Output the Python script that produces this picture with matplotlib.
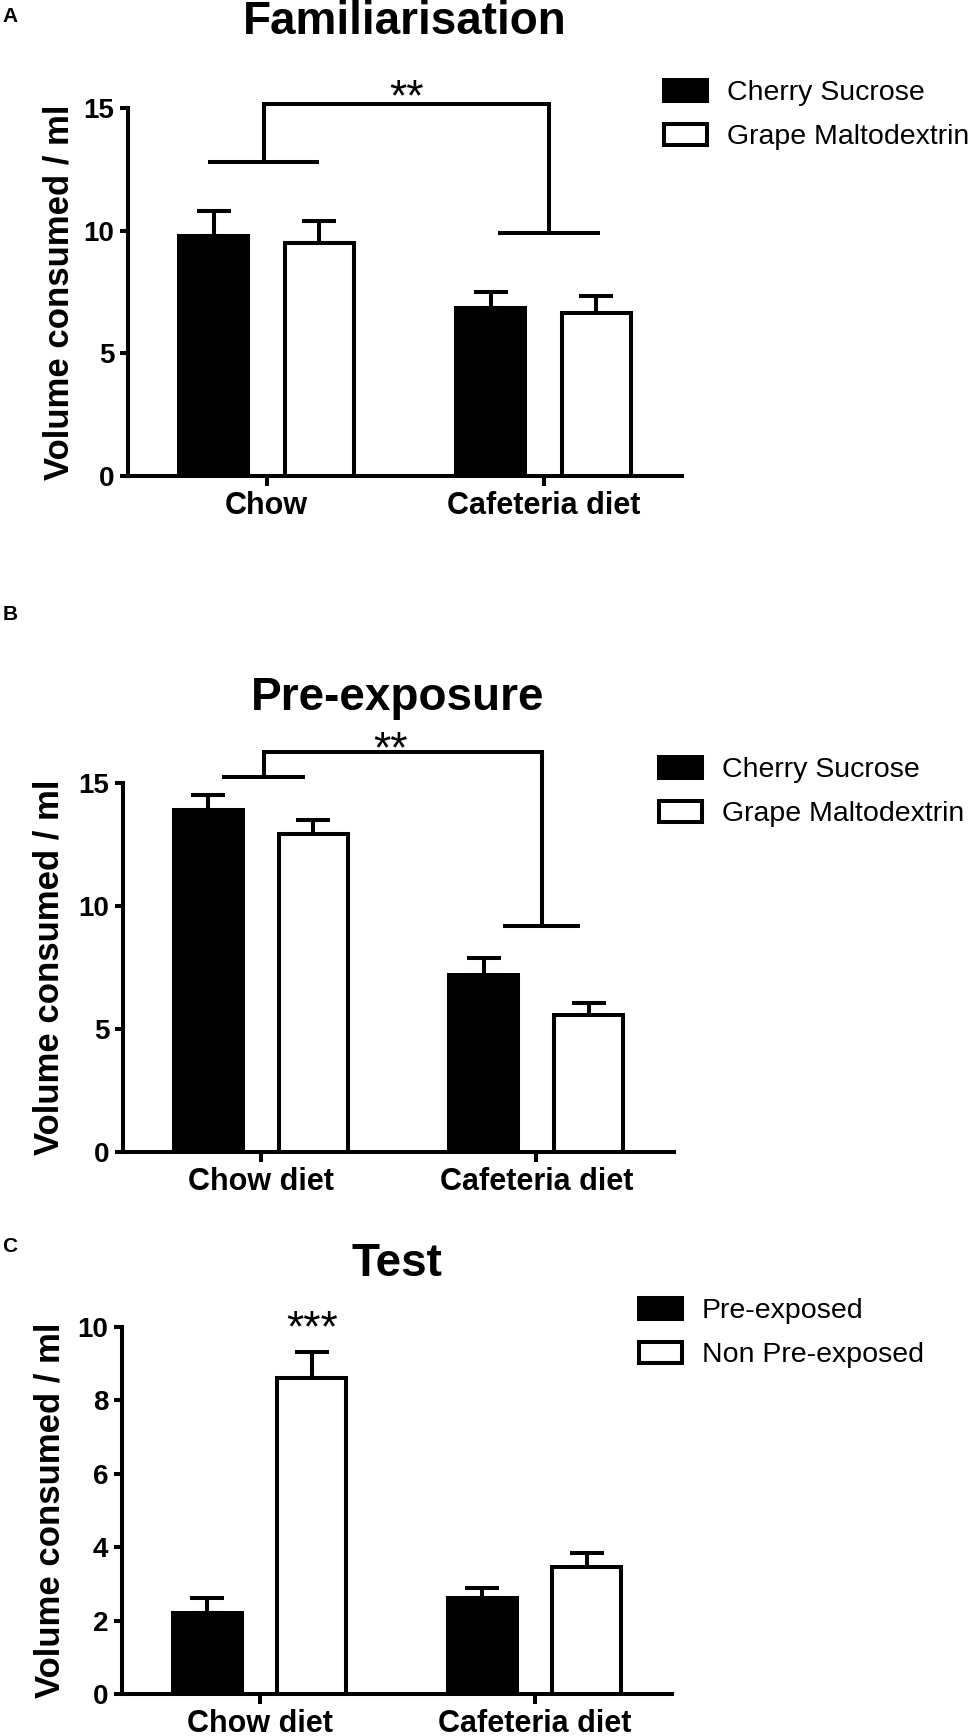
import matplotlib
matplotlib.use("Agg")
import matplotlib.pyplot as plt
import numpy as np

plt.rcParams['font.family'] = ['Liberation Sans', 'DejaVu Sans']

# ---------------- data ----------------
groups_A = ["Chow", "Cafeteria diet"]
groups_BC = ["Chow diet", "Cafeteria diet"]

legend_AB = ["Cherry Sucrose", "Grape Maltodextrin"]
legend_C = ["Pre-exposed", "Non Pre-exposed"]

A_sucrose = [9.8, 6.85]
A_sucrose_err = [1.0, 0.65]
A_malto = [9.5, 6.65]
A_malto_err = [0.9, 0.7]

B_sucrose = [13.9, 7.2]
B_sucrose_err = [0.62, 0.68]
B_malto = [12.94, 5.55]
B_malto_err = [0.56, 0.5]

C_pre = [2.22, 2.62]
C_pre_err = [0.4, 0.26]
C_non = [8.61, 3.45]
C_non_err = [0.72, 0.4]

titles = ["Familiarisation", "Pre-exposure", "Test"]
ylims = [15, 15, 10]
yticks = [[0, 5, 10, 15], [0, 5, 10, 15], [0, 2, 4, 6, 8, 10]]

# significance brackets: (left group bracket level, right group bracket level, top level)
A_bracket = [12.8, 9.9, 15.15]
B_bracket = [15.25, 9.2, 16.25]
sig_labels = ["**", "**", "***"]

# ---------------- figure ----------------
W, H = 975, 1736
fig = plt.figure(figsize=(W / 100, H / 100), dpi=100)

LW = 2.9
def px2fx(x):
    return x / W
def px2fy(y):
    return 1 - y / H

# axes rectangles in pixels: left, right, top(y of max tick), bottom(y of 0)
rects = [(128, 682, 108, 476), (123, 674, 783, 1152), (122, 672, 1327, 1694)]
axes = []
for (l, r, t, b) in rects:
    ax = fig.add_axes([px2fx(l), px2fy(b), (r - l) / W, (b - t) / H])
    axes.append(ax)

series = [
    (A_sucrose, A_sucrose_err, A_malto, A_malto_err, groups_A, legend_AB),
    (B_sucrose, B_sucrose_err, B_malto, B_malto_err, groups_BC, legend_AB),
    (C_pre, C_pre_err, C_non, C_non_err, groups_BC, legend_C),
]

x = np.arange(2)
off = 0.19
bw = 0.25
legend_pos = [(664, 115), (659, 792), (639, 1333)]
ylabel_x = [-0.095, -0.105, -0.10]

for i, ax in enumerate(axes):
    v1, e1, v2, e2, groups, leg = series[i]
    b1 = ax.bar(x - off, v1, bw, color='black', edgecolor='black', linewidth=LW, label=leg[0], zorder=3)
    b2 = ax.bar(x + off, v2, bw, color='white', edgecolor='black', linewidth=LW, label=leg[1], zorder=3)
    ax.errorbar(x - off, v1, yerr=[np.zeros(2), e1], fmt='none', ecolor='black',
                elinewidth=LW, capsize=12, capthick=LW, zorder=2)
    ax.errorbar(x + off, v2, yerr=[np.zeros(2), e2], fmt='none', ecolor='black',
                elinewidth=LW, capsize=12, capthick=LW, zorder=2)
    ax.set_xlim(-0.5, 1.5)
    ax.set_ylim(0, ylims[i])
    ax.set_yticks(yticks[i])
    ax.set_xticks(x)
    ax.set_xticklabels(groups)
    for s in ['top', 'right']:
        ax.spines[s].set_visible(False)
    for s in ['left', 'bottom']:
        ax.spines[s].set_linewidth(LW)
    ax.tick_params(axis='y', direction='out', length=5.8, width=LW, pad=4, labelsize=20)
    ax.tick_params(axis='x', direction='out', length=7, width=LW, pad=4, labelsize=22)
    for lab in ax.get_xticklabels() + ax.get_yticklabels():
        lab.set_fontweight('bold')
    ax.set_ylabel("Volume consumed / ml", fontsize=25, fontweight='bold')
    ax.yaxis.set_label_coords(ylabel_x[i], 0.5)
    lx, ly = legend_pos[i]
    fig.legend(handles=[b1, b2], loc='center left', bbox_to_anchor=(px2fx(lx), px2fy(ly)),
               frameon=False, fontsize=20.5, handlelength=1.5, handleheight=0.8,
               handletextpad=0.7, labelspacing=0.6, borderpad=0, borderaxespad=0)

# brackets
def bracket(ax, levels, centers, halfw):
    lvl_l, lvl_r, top = levels
    (cl, cr), (hl, hr) = centers, halfw
    kw = dict(color='black', lw=LW, clip_on=False, solid_capstyle='butt', zorder=4)
    ax.plot([cl - hl, cl + hl], [lvl_l, lvl_l], **kw)
    ax.plot([cr - hr, cr + hr], [lvl_r, lvl_r], **kw)
    ax.plot([cl, cl, cr, cr], [lvl_l, top, top, lvl_r], solid_joinstyle='miter', **kw)

bracket(axes[0], A_bracket, (-0.01, 1.02), (0.2, 0.185))
bracket(axes[1], B_bracket, (0.01, 1.02), (0.15, 0.14))

axes[0].text(0.505, 15.38, sig_labels[0], ha='center', va='center', fontsize=32, clip_on=False)
axes[1].text(0.47, 16.32, sig_labels[1], ha='center', va='center', fontsize=32, clip_on=False)
axes[2].text(0.19, 9.93, sig_labels[2], ha='center', va='center', fontsize=32, clip_on=False)

# titles
title_pos = [(405, 22), (398, 698), (397, 1264)]
for t, (tx, ty) in zip(titles, title_pos):
    fig.text(px2fx(tx), px2fy(ty), t, ha='center', va='center', fontsize=33, fontweight='bold')

# panel letters
for letter, ly in zip(["A", "B", "C"], [16, 615, 1246]):
    fig.text(px2fx(10), px2fy(ly), letter, ha='center', va='center', fontsize=15, fontweight='bold')

fig.savefig("out.png", dpi=100, facecolor='white')
